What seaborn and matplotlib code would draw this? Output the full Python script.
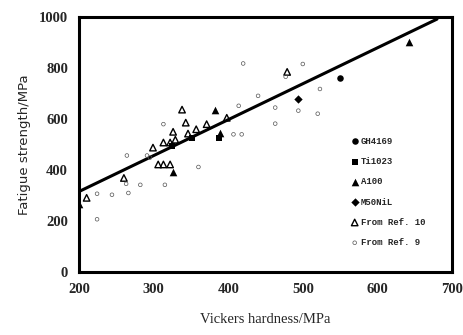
import seaborn as sns
import matplotlib.pyplot as plt
import pandas as pd
import numpy as np

# values
gh_x = [550]
gh_y = [762]

ti_x = [325, 352, 387]
ti_y = [496, 527, 527]

a100_x = [642, 382, 389, 326, 200]
a100_y = [902, 635, 547, 391, 265]

m50_x = [494]
m50_y = [680]

ref10_x = [338, 343, 371, 357, 346, 326, 313, 322, 329, 299, 306, 313, 322, 260, 210, 398, 479]
ref10_y = [637, 586, 580, 560, 543, 550, 508, 508, 519, 488, 422, 422, 422, 369, 291, 605, 785]

ref9_x = [224, 224, 244, 266, 263, 282, 315, 264, 291, 313, 295, 360, 407, 418, 414,
          440, 463, 463, 494, 520, 523, 500, 420, 477]
ref9_y = [207, 307, 303, 310, 346, 342, 342, 457, 457, 580, 449, 412, 540, 540, 652,
          691, 645, 582, 633, 621, 718, 816, 818, 766]

# fitted line (end points)
fit_x = [200, 680]
fit_y = [316, 992]

x_ticks = [200, 300, 400, 500, 600, 700]
y_ticks = [0, 200, 400, 600, 800, 1000]

sns.set_style('white')
plt.rcParams['font.family'] = ['Liberation Serif', 'DejaVu Serif']

fig = plt.figure(figsize=(4.63, 3.35), dpi=100)
ax = fig.add_axes([0.171, 0.188, 0.805, 0.761])

sns.lineplot(x=fit_x, y=fit_y, ax=ax, color='black', lw=2.2, zorder=2)

#each series gets its own marker
series = [
    ('GH4169', gh_x, gh_y, 'o', 22, 'black', 'black', 0.0),
    ('Ti1023', ti_x, ti_y, 's', 24, 'black', 'black', 0.0),
    ('A100', a100_x, a100_y, '^', 30, 'black', 'black', 0.0),
    ('M50NiL', m50_x, m50_y, 'D', 18, 'black', 'black', 0.0),
    ('From Ref. 10', ref10_x, ref10_y, '^', 22, 'none', 'black', 1.0),
    ('From Ref. 9', ref9_x, ref9_y, 'o', 7, 'none', '#555555', 0.5),
]
for name, xs, ys, mk, sz, fc, ec, lw in series:
    sns.scatterplot(x=xs, y=ys, ax=ax, marker=mk, s=sz, facecolor=fc,
                    edgecolor=ec, linewidth=lw, label=name, zorder=3)

ax.set_xlim(200, 700)
ax.set_ylim(0, 1000)
ax.set_xticks(x_ticks)
ax.set_yticks(y_ticks)
ax.tick_params(length=0, pad=8, labelsize=10.5)
for t in ax.get_xticklabels() + ax.get_yticklabels():
    t.set_fontweight('bold')

for sp in ax.spines.values():
    sp.set_color('black')
    sp.set_linewidth(2.2)

ax.set_xlabel('Vickers hardness/MPa', fontsize=10.5, labelpad=12)
ax.set_ylabel('Fatigue strength/MPa', fontsize=9.5, labelpad=6,
              family=['DejaVu Sans'])

leg = ax.legend(loc='upper left', bbox_to_anchor=(0.715, 0.545), frameon=False,
                prop={'family': 'Liberation Mono', 'weight': 'bold', 'size': 6.5},
                labelspacing=1.25, handletextpad=0.1, handlelength=1.2,
                borderaxespad=0)

fig.savefig('out.png', dpi=100)
